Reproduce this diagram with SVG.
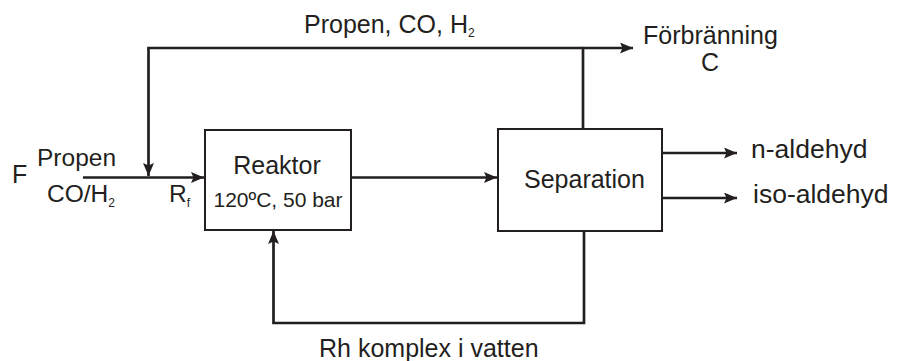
<svg xmlns="http://www.w3.org/2000/svg" width="897" height="361" viewBox="0 0 897 361">
<style>
text{font-family:"Liberation Sans",Arial,sans-serif;fill:#231f20}
.t{font-size:25px}
.s{font-size:12px}
.box{fill:#fff;stroke:#231f20;stroke-width:2}
.ln{fill:none;stroke:#231f20;stroke-width:2.7}
</style>
<defs>
<marker id="ah" viewBox="0 0 13 11" refX="13" refY="5.5" markerWidth="13" markerHeight="11" markerUnits="userSpaceOnUse" orient="auto">
<path d="M0,0 L13,5.5 L0,11 L2.5,5.5 Z" fill="#231f20"/>
</marker>
</defs>
<g id="connectors">
<path class="ln" d="M83,177.5 H204" marker-end="url(#ah)"/>
<path class="ln" d="M583,129 V48 H633" marker-end="url(#ah)"/>
<path class="ln" d="M583,48 H148.5 V176" marker-end="url(#ah)"/>
<path class="ln" d="M351,177.5 H497" marker-end="url(#ah)"/>
<path class="ln" d="M662,153 H737" marker-end="url(#ah)"/>
<path class="ln" d="M662,198 H737" marker-end="url(#ah)"/>
<path class="ln" d="M584,231 V323 H273.5 V231" marker-end="url(#ah)"/>
</g>
<g id="reaktor">
<rect class="box" x="205" y="130" width="146" height="100"/>
<text class="t" x="277" y="174" text-anchor="middle">Reaktor</text>
<text x="278" y="207" text-anchor="middle" style="font-size:21px">120ºC, 50 bar</text>
</g>
<g id="separation">
<rect class="box" x="498" y="129" width="164" height="102"/>
<text class="t" x="524" y="188">Separation</text>
</g>
<g id="feed">
<text class="t" x="12" y="183">F</text>
<text x="37" y="166" style="font-size:24.5px">Propen</text>
<text x="47" y="202" style="font-size:24.5px">CO/H<tspan class="s" dy="5">2</tspan></text>
<text x="169" y="202" style="font-size:24.5px">R<tspan class="s" dy="5">f</tspan></text>
</g>
<g id="recycle-gas">
<text class="t" x="304" y="33">Propen, CO, H<tspan class="s" dy="4">2</tspan></text>
</g>
<g id="forbranning">
<text class="t" x="643" y="44">Förbränning</text>
<text class="t" x="701" y="71">C</text>
</g>
<g id="n-aldehyd">
<text x="751" y="158" style="font-size:26.5px">n-aldehyd</text>
</g>
<g id="iso-aldehyd">
<text x="753" y="203" style="font-size:26.5px">iso-aldehyd</text>
</g>
<g id="rh-komplex">
<text class="t" x="319" y="357">Rh komplex i vatten</text>
</g>
</svg>
